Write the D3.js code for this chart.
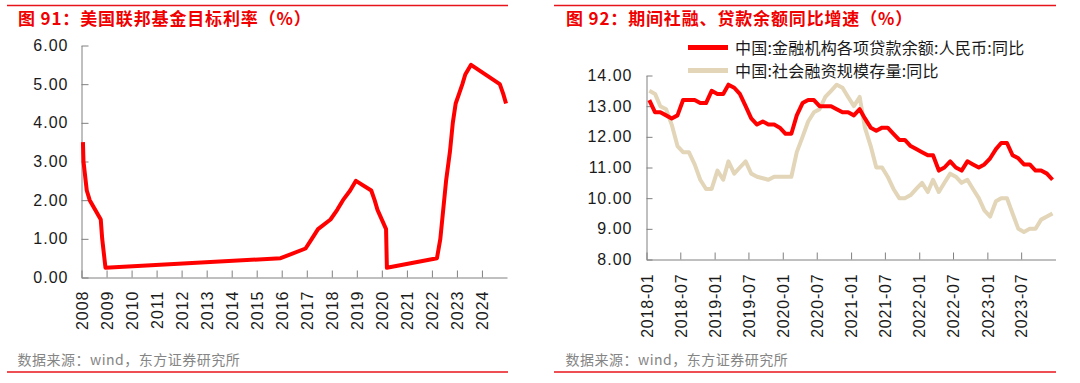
<!DOCTYPE html>
<html><head><meta charset="utf-8">
<script src="https://cdn.jsdelivr.net/npm/d3@7"></script>
<style>
html,body{margin:0;padding:0;background:#fff;}
svg{display:block;}
.num text{font-family:"Liberation Sans",Arial,sans-serif;font-size:16px;fill:#1a1a1a;letter-spacing:1px;}
.cjk{font-family:"Noto Sans CJK SC",sans-serif;}
</style></head><body>
<svg id="c" width="1080" height="383"></svg>
<script>
// ---------- Left chart data: US Fed funds target rate (upper bound, %) ----------
const fedDates = ["2008-01-22","2008-01-30","2008-03-18","2008-04-30","2008-10-08","2008-10-29","2008-12-16",
  "2015-12-16","2016-12-14","2017-03-15","2017-06-14","2017-12-13","2018-03-21","2018-06-13","2018-09-26","2018-12-19",
  "2019-07-31","2019-09-18","2019-10-30","2020-03-03","2020-03-15",
  "2022-03-16","2022-05-04","2022-06-15","2022-07-27","2022-09-21","2022-11-02","2022-12-14",
  "2023-02-01","2023-03-22","2023-05-03","2023-07-26","2024-09-18","2024-11-07","2024-12-18"];
const fedRate = [3.5,3.0,2.25,2.0,1.5,1.0,0.25,
  0.5,0.75,1.0,1.25,1.5,1.75,2.0,2.25,2.5,
  2.25,2.0,1.75,1.25,0.25,
  0.5,1.0,1.75,2.5,3.25,4.0,4.5,
  4.75,5.0,5.25,5.5,5.0,4.75,4.5];
const fedYearLabels = [2008,2009,2010,2011,2012,2013,2014,2015,2016,2017,2018,2019,2020,2021,2022,2023,2024];
const fedYTicks = [0,1,2,3,4,5,6];

// ---------- Right chart data: loans & TSF YoY (%) ----------
const monthStart = "2018-01", monthEnd = "2024-01";
const loanYoY = [
  13.2,12.8,12.8,12.7,12.6,12.7,13.2,13.2,13.2,13.1,13.1,13.5,
  13.4,13.4,13.7,13.6,13.4,13.0,12.6,12.4,12.5,12.4,12.4,12.3,
  12.1,12.1,12.7,13.1,13.2,13.2,13.0,13.0,13.0,12.9,12.8,12.8,
  12.7,12.9,12.6,12.3,12.2,12.3,12.3,12.1,11.9,11.9,11.7,11.6,
  11.5,11.4,11.4,10.9,11.0,11.2,11.0,10.9,11.2,11.1,11.0,11.1,
  11.3,11.6,11.8,11.8,11.4,11.3,11.1,11.1,10.9,10.9,10.8,10.6];
const tsfYoY = [
  13.5,13.4,13.0,12.9,12.4,11.7,11.5,11.5,11.1,10.6,10.3,10.3,
  10.9,10.6,11.2,10.8,11.0,11.2,10.8,10.7,10.65,10.6,10.7,10.7,
  10.7,10.7,11.5,12.0,12.5,12.8,12.9,13.3,13.5,13.7,13.6,13.3,
  13.0,13.3,12.3,11.7,11.0,11.0,10.7,10.3,10.0,10.0,10.1,10.3,
  10.5,10.2,10.6,10.2,10.5,10.8,10.7,10.5,10.6,10.3,10.0,9.6,
  9.4,9.9,10.0,10.0,9.5,9.0,8.9,9.0,9.0,9.3,9.4,9.5];
const monthTickLabels = ["2018-01","2018-07","2019-01","2019-07","2020-01","2020-07","2021-01","2021-07","2022-01","2022-07","2023-01","2023-07"];
const rightYTicks = [8,9,10,11,12,13,14];
const seriesNames = ["中国:金融机构各项贷款余额:人民币:同比","中国:社会融资规模存量:同比"];
const seriesColors = ["#ff0000","#e2d5b8"];

const titles = ["图 91：美国联邦基金目标利率（%）","图 92：期间社融、贷款余额同比增速（%）"];
const source = "数据来源：wind，东方证券研究所";

// ---------- drawing ----------
const svg = d3.select("#c");
const RED = "#e8141c", AXIS = "#808080";
const parseDay = d3.timeParse("%Y-%m-%d"), parseMonth = d3.timeParse("%Y-%m");

function frame(x0, x1, tx, title){
  svg.append("line").attr("x1",x0).attr("x2",x1).attr("y1",5.5).attr("y2",5.5).attr("stroke",RED).attr("stroke-width",1.4);
  svg.append("line").attr("x1",x0).attr("x2",x1).attr("y1",372).attr("y2",372).attr("stroke",RED).attr("stroke-width",1.4);
  svg.append("text").attr("class","cjk").attr("x",tx).attr("y",25).attr("fill","#f00000")
     .attr("font-size",17).attr("font-weight","bold").style("letter-spacing","0.85px").style("white-space","pre").text(title);
  svg.append("text").attr("class","cjk").attr("x",tx-0.5).attr("y",365).attr("fill","#858585")
     .attr("font-size",14).style("letter-spacing","0.5px").text(source);
}
frame(7,508,18,titles[0]);
frame(554,1056,566,titles[1]);

function styleAxis(g){
  g.selectAll("path,line").attr("stroke",AXIS).attr("stroke-width",1);
}

// ----- left chart -----
{
  const x = d3.scaleTime().domain([new Date(2008,0,1), new Date(2025,0,1)]).range([81.5,507]);
  const y = d3.scaleLinear().domain([0,6]).range([277.5,45.5]);
  const gx = svg.append("g").attr("class","num").attr("transform","translate(0,277.5)")
    .call(d3.axisBottom(x).tickValues(fedYearLabels.map(v=>new Date(v,0,1))).tickFormat(d3.timeFormat("%Y"))
      .tickSizeInner(-7).tickSizeOuter(0));
  gx.selectAll("text").attr("transform","rotate(-90)").attr("x",-13).attr("y",0).attr("dy","0.36em").style("text-anchor","end");
  styleAxis(gx);
  const gy = svg.append("g").attr("class","num").attr("transform","translate(81.5,0)")
    .call(d3.axisLeft(y).tickValues(fedYTicks).tickFormat(d3.format(".2f")).tickSizeInner(-7).tickSizeOuter(0).tickPadding(13));
  styleAxis(gy);
  const pts = fedDates.map((d,i)=>({d:parseDay(d), v:fedRate[i]}));
  svg.append("path").datum(pts).attr("fill","none").attr("stroke","#ff0000").attr("stroke-width",4)
    .attr("stroke-linejoin","round")
    .attr("d", d3.line().x(p=>x(p.d)).y(p=>y(p.v)));
}

// ----- right chart -----
{
  const months = d3.timeMonth.range(parseMonth(monthStart), parseMonth(monthEnd));
  const x = d3.scaleTime().domain([parseMonth(monthStart), parseMonth(monthEnd)]).range([646.5,1055.5]);
  const y = d3.scaleLinear().domain([8,14]).range([259.5,75.5]);
  const mid = m => x(d3.timeDay.offset(m,15));
  const gx = svg.append("g").attr("class","num").attr("transform","translate(0,259.5)")
    .call(d3.axisBottom(x).tickValues(monthTickLabels.map(s=>parseMonth(s))).tickFormat(d3.timeFormat("%Y-%m"))
      .tickSizeInner(-7).tickSizeOuter(0));
  gx.selectAll("text").attr("transform","rotate(-90)").attr("x",-14).attr("y",0).attr("dy","0.36em").style("text-anchor","end");
  gx.selectAll("text").style("letter-spacing","0.8px");
  styleAxis(gx);
  const gy = svg.append("g").attr("class","num").attr("transform","translate(646.5,0)")
    .call(d3.axisLeft(y).tickValues(rightYTicks).tickFormat(d3.format(".2f")).tickSizeInner(-6).tickSizeOuter(0).tickPadding(14));
  styleAxis(gy);
  const series = [loanYoY, tsfYoY];
  [1,0].forEach(k=>{
    svg.append("path").datum(series[k]).attr("fill","none").attr("stroke",seriesColors[k]).attr("stroke-width",4)
      .attr("stroke-linejoin","round")
      .attr("d", d3.line().x((v,i)=>mid(months[i])).y(v=>y(v)));
  });
  seriesNames.forEach((n,k)=>{
    const ly = 47.5 + k*23;
    svg.append("line").attr("x1",688).attr("x2",728).attr("y1",ly).attr("y2",ly)
      .attr("stroke",seriesColors[k]).attr("stroke-width",5);
    svg.append("text").attr("class","cjk").attr("x",735).attr("y",ly+6).attr("font-size",16)
      .style("letter-spacing","0.2px").attr("fill","#1a1a1a").text(n);
  });
}
</script>
</body></html>
